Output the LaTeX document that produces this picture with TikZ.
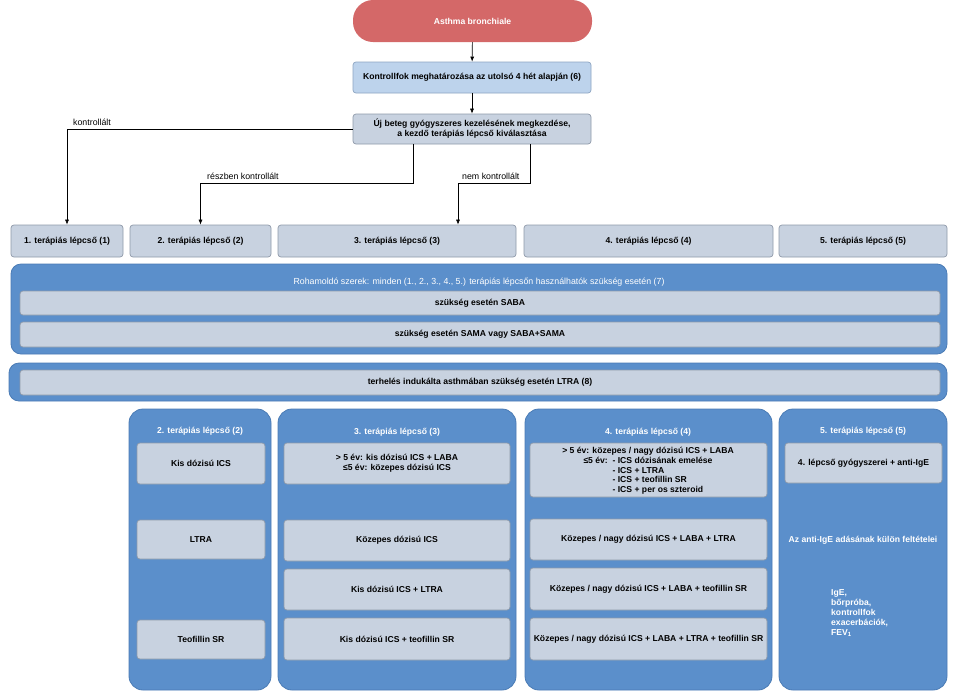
\documentclass[tikz,border=0pt]{standalone}
\usepackage{fontspec}
\setmainfont{Liberation Sans}
\usetikzlibrary{arrows.meta}
\definecolor{redpill}{HTML}{D46868}
\definecolor{ltblue}{HTML}{BDD3EC}
\definecolor{ltblueb}{HTML}{8DA5C2}
\definecolor{greyfill}{HTML}{C8D2E0}
\definecolor{greyb}{HTML}{8F9AAA}
\definecolor{panelc}{HTML}{5B8FCB}
\definecolor{panelb}{HTML}{4A7BB5}
\newcommand\bx[7]{%
  \node[#6, minimum width={(#4-#2)*1pt}, minimum height={(#5-#3)*1pt}] (#1) at ({(#2+#4)/2},{(#3+#5)/2}) {#7};}
\newcommand\ftb{\fontsize{8.6}{10}\selectfont\bfseries}
\newcommand\ftn{\fontsize{8.8}{10}\selectfont}
\tikzset{
  greybox/.style={fill=greyfill, draw=greyb, line width=0.7pt, rounded corners=3pt, inner sep=1pt, align=center, font=\ftb},
  bluebox/.style={fill=ltblue, draw=ltblueb, line width=0.7pt, rounded corners=3pt, inner sep=1pt, align=center, font=\ftb},
  pill/.style={fill=redpill, draw=none, rounded corners=20pt, text=white, inner sep=1pt, font=\ftb},
  panel/.style={fill=panelc, draw=panelb, line width=0.8pt, rounded corners=10pt, inner sep=0pt},
  colpanel/.style={fill=panelc, draw=panelb, line width=0.8pt, rounded corners=14pt, inner sep=0pt},
  wtitle/.style={text=white, inner sep=0pt, font=\ftb},
  wnormal/.style={text=white, inner sep=0pt, font=\ftn},
  lbl/.style={inner sep=0pt, anchor=base west, font=\ftn},
  arr/.style={-{Latex[length=5pt,width=4pt]}, line width=0.6pt}
}
\begin{document}
\begin{tikzpicture}[x=1pt,y=-1pt]
\useasboundingbox (0,0) rectangle (957,694);
\fill[white] (0,0) rectangle (957,694);
% top flow
\bx{asthma}{353}{0}{592}{42}{pill}{Asthma bronchiale}
\bx{kontroll}{353}{62}{591}{93}{bluebox}{Kontrollfok meghatározása az utolsó 4 hét alapján (6)}
\bx{uj}{353}{114}{591}{144}{greybox}{Új beteg gyógyszeres kezelésének megkezdése,\\a kezdő terápiás lépcső kiválasztása}
% step boxes
\bx{s1}{11}{225}{123}{257}{greybox}{1. terápiás lépcső (1)}
\bx{s2}{130}{225}{271}{257}{greybox}{2. terápiás lépcső (2)}
\bx{s3}{278}{225}{516}{257}{greybox}{3. terápiás lépcső (3)}
\bx{s4}{524}{225}{773}{257}{greybox}{4. terápiás lépcső (4)}
\bx{s5}{779}{225}{947}{257}{greybox}{5. terápiás lépcső (5)}
% connectors
\draw[arr] (asthma) -- (kontroll);
\draw[arr] (kontroll) -- (uj);
\draw[arr] (uj.west) -| (s1.north);
\draw[arr] ([xshift=-59pt]uj.south) |- ++(0,39) -| (s2.north);
\draw[arr] ([xshift=58pt]uj.south) |- ++(0,39) -| ([xshift=61pt]s3.north);
\node[lbl] (l1) at (73,125) {kontrollált};
\node[lbl] (l2) at (207,179) {részben kontrollált};
\node[lbl] (l3) at (462,179) {nem kontrollált};
% reliever panel
\bx{p1}{11}{264}{947}{354}{panel}{}
\node[wnormal] (p1t) at (479,282) {Rohamoldó szerek: minden (1., 2., 3., 4., 5.) terápiás lépcsőn használhatók szükség esetén (7)};
\bx{saba}{20}{291}{940}{315}{greybox}{szükség esetén SABA}
\bx{sama}{20}{322}{940}{347}{greybox}{szükség esetén SAMA vagy SABA+SAMA}
% LTRA panel
\bx{p2}{9}{363}{947}{401}{panel}{}
\bx{ltra8}{20}{370}{940}{395}{greybox}{terhelés indukálta asthmában szükség esetén LTRA (8)}
% column panels
\bx{c2}{129}{409}{271}{690}{colpanel}{}
\bx{c3}{278}{409}{516}{690}{colpanel}{}
\bx{c4}{525}{409}{772}{690}{colpanel}{}
\bx{c5}{779}{409}{947}{690}{colpanel}{}
\node[wtitle] (c2t) at (200,431) {2. terápiás lépcső (2)};
\node[wtitle] (c3t) at (397,432) {3. terápiás lépcső (3)};
\node[wtitle] (c4t) at (648,432) {4. terápiás lépcső (4)};
\node[wtitle] (c5t) at (863,431) {5. terápiás lépcső (5)};
% column 2
\bx{c2a}{137}{443}{265}{484}{greybox}{Kis dózisú ICS}
\bx{c2b}{137}{520}{265}{559}{greybox}{LTRA}
\bx{c2c}{137}{620}{265}{659}{greybox}{Teofillin SR}
% column 3
\bx{c3a}{284}{443}{510}{484}{greybox}{> 5 év: kis dózisú ICS + LABA\\≤5 év: közepes dózisú ICS}
\bx{c3b}{284}{520}{510}{561}{greybox}{Közepes dózisú ICS}
\bx{c3c}{284}{569}{510}{610}{greybox}{Kis dózisú ICS + LTRA}
\bx{c3d}{284}{618}{510}{660}{greybox}{Kis dózisú ICS + teofillin SR}
% column 4
\bx{c4a}{530}{443}{767}{497}{greybox}{}
\node[inner sep=0pt, font=\ftb, align=center] (c4at) at (648,471.5)
  {> 5 év: közepes / nagy dózisú ICS + LABA\\[-0.3pt]
   \begin{tabular}{@{}l@{\ \ }l@{}}
   ≤5 év: & - ICS dózisának emelése\\[-0.3pt]
          & - ICS + LTRA\\[-0.3pt]
          & - ICS + teofillin SR\\[-0.3pt]
          & - ICS + per os szteroid
   \end{tabular}};
\bx{c4b}{530}{519}{767}{560}{greybox}{Közepes / nagy dózisú ICS + LABA + LTRA}
\bx{c4c}{530}{568}{767}{610}{greybox}{Közepes / nagy dózisú ICS + LABA + teofillin SR}
\bx{c4d}{530}{618}{767}{660}{greybox}{Közepes / nagy dózisú ICS + LABA + LTRA + teofillin SR}
% column 5
\bx{c5a}{785}{443}{942}{483}{greybox}{4. lépcső gyógyszerei + anti-IgE}
\node[wtitle] (c5b) at (863,540) {Az anti-IgE adásának külön feltételei};
\node[wtitle, align=left, anchor=north west] (c5c) at (831,589)
  {IgE,\\bőrpróba,\\kontrollfok\\exacerbációk,\\FEV\textsubscript{1}};
\end{tikzpicture}
\end{document}
